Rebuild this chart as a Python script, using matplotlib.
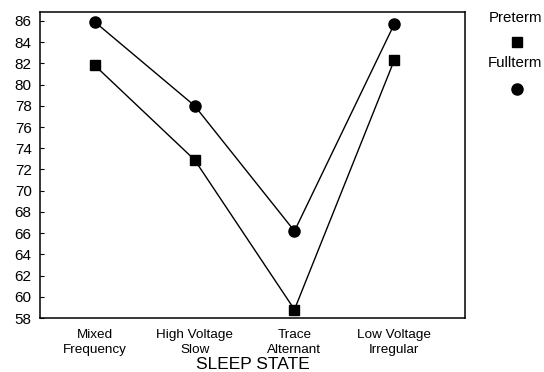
import numpy as np
import matplotlib.pyplot as plt
from matplotlib.lines import Line2D

plt.rcParams['font.family'] = ['Liberation Sans', 'DejaVu Sans']

# sleep states on the x axis
states = ["Mixed\nFrequency", "High Voltage\nSlow", "Trace\nAlternant", "Low Voltage\nIrregular"]
preterm = [81.8, 72.9, 58.8, 82.3]
fullterm = [85.9, 78.0, 66.2, 85.7]
yticks = list(range(58, 87, 2))

fig = plt.figure(figsize=(5.44, 3.72), dpi=100)
ax = fig.add_axes([0.0735, 0.145, 0.7815, 0.823])

x = np.arange(len(states))
ax.plot(x, preterm, '-', color='black', lw=1.0, marker='s', ms=7, zorder=3)
ax.plot(x, fullterm, '-', color='black', lw=1.0, marker='o', ms=8, zorder=3)

ax.set_xlim(-0.55, 3.71)
ax.set_ylim(58, 86.85)
ax.set_yticks(yticks)
ax.set_yticklabels([str(v) for v in yticks], fontsize=11)
ax.set_xticks(x)
ax.set_xticklabels(states, fontsize=9.7, linespacing=1.3)
ax.tick_params(axis='y', direction='in', length=3, pad=6)
ax.tick_params(axis='x', length=0, pad=8)
ax.set_xlabel("SLEEP STATE", fontsize=12.5, labelpad=1)
for sp in ax.spines.values():
    sp.set_linewidth(1.1)

# legend drawn beside the plot
fig.text(515 / 544, 1 - 18 / 372, "Preterm", ha='center', va='center', fontsize=10.8)
fig.add_artist(Line2D([517 / 544], [1 - 42 / 372], marker='s', ms=7, color='black',
                      transform=fig.transFigure))
fig.text(515 / 544, 1 - 63 / 372, "Fullterm", ha='center', va='center', fontsize=10.8)
fig.add_artist(Line2D([517 / 544], [1 - 89 / 372], marker='o', ms=8, color='black',
                      transform=fig.transFigure))

fig.savefig("out.png", dpi=100)
